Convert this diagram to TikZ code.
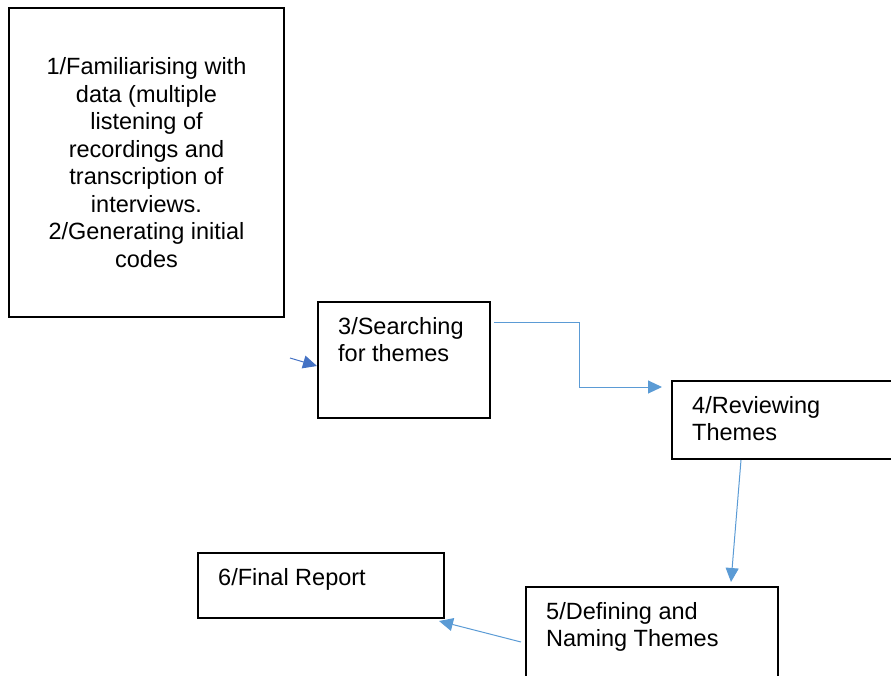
\documentclass[tikz,border=0pt]{standalone}
\usepackage{fontspec}
\setmainfont{Liberation Sans}
\usepackage{tikz}
\usepackage{xcolor}
\usetikzlibrary{arrows.meta,positioning,shapes}
\definecolor{flowblue}{HTML}{5B9BD5}
\definecolor{darkblue}{HTML}{4472C4}
\tikzset{%
	stage/.style    = {draw, rectangle, line width=2pt, inner sep=0pt}, % Box
	note/.style     = {anchor=north west, align=left, inner sep=0pt, xshift=21pt, yshift=-16pt}, % Box text
	flow/.style     = {draw=flowblue, line width=1pt, -{Triangle[length=14pt,width=13pt]}, flowblue},
}

\begin{document}
\begin{tikzpicture}[x=1pt,y=-1pt,font=\fontsize{23.5}{27.5}\selectfont]
		\clip (0,0) rectangle (891,675);
		\node [stage, align=center, minimum width=275pt, minimum height=309pt] (familiar) at (146.5,162.5) {1/Familiarising with\\data (multiple\\listening of\\recordings and\\transcription of\\interviews.\\2/Generating initial\\codes};
		\node [stage, minimum width=172pt, minimum height=116pt, label={[note]north west:3/Searching\\for themes}] (search) at (404,360) {};
		\node [stage, minimum width=260pt, minimum height=78pt, label={[note]north west:4/Reviewing\\Themes}] (review) at (802,420) {};
		\node [stage, minimum width=252pt, minimum height=120pt, label={[note]north west:5/Defining and\\Naming Themes}] (define) at (652,647) {};
		\node [stage, minimum width=246pt, minimum height=65pt, label={[note]north west:6/Final Report}] (report) at (321,585.5) {};
		\coordinate (in) at (290,358);
		\draw[flow, draw=darkblue, darkblue] (in) -- ([yshift=-6pt]search.west);
		\draw[flow] ([xshift=3pt,yshift=-21pt]search.north east) -- ++(85,0) |- ([xshift=-9pt,yshift=-7pt]review.north west);
		\draw[flow] ([xshift=70pt]review.south west) -- ([xshift=206pt,yshift=4pt]define.north west);
		\draw[flow] ([xshift=-4pt,yshift=-56pt]define.north west) -- ([xshift=-6pt,yshift=-2pt]report.south east);
	\end{tikzpicture}
\end{document}
